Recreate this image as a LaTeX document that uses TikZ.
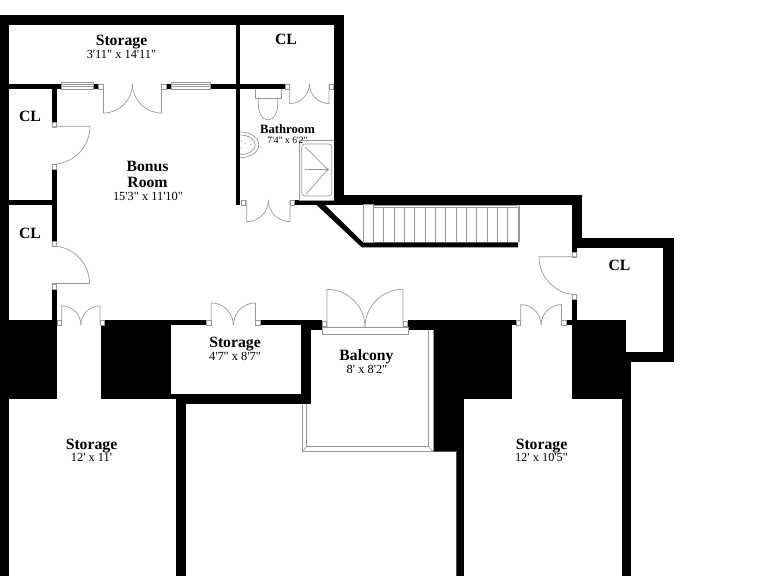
\documentclass[tikz,border=0pt]{standalone}
\usepackage{fontspec}
\setmainfont{Liberation Serif}[Ligatures=TeXOff]
\definecolor{fixgray}{HTML}{999999}
\tikzset{
    wall/.style = {fill = black, draw = none},
    fixture/.style = {draw = fixgray, line width = 0.7pt},
    jamb/.style = {draw = fixgray, line width = 0.6pt, fill = white},
    roomtitle/.style = {font = \fontsize{15.7}{16}\bfseries\selectfont, anchor = base, inner sep = 0pt},
    roomsize/.style = {font = \fontsize{12.4}{13}\selectfont, anchor = base, inner sep = 0pt},
    bathtitle/.style = {font = \fontsize{12.7}{13}\bfseries\selectfont, anchor = base, inner sep = 0pt},
    bathsize/.style = {font = \fontsize{9.6}{10}\selectfont, anchor = base, inner sep = 0pt}
}
\begin{document}
\begin{tikzpicture}[x = 1pt, y = -1pt]
    \useasboundingbox (0,0) rectangle (768,576);
    % solid walls
    \foreach \xa/\ya/\xb/\yb in {
        0/15/344/25, 0/15/9/320, 334/15/344/205, 235.5/25/240.3/205,
        9/84/62/89, 93.3/84/98.7/89, 166/84/171/89, 210/84/285/89,
        52/84/57/122, 52/169/57/241, 52/288/57/320, 9/200/52/205,
        295/200/344/205, 344/195/582/205,
        0/320/57/399, 0/399/9/576, 101/320/171/399,
        171/320/207/325, 260/320/322/325, 301/325/311/404, 311/325/322/330,
        171/394/311/399, 175.5/399/311/404, 175.5/404/186/576,
        408/320/433/330, 433/320/516/325, 433/325/512/399,
        433/399/464/451, 456.5/451/464/576,
        566/320/572/325, 572/299/577/320, 572/320/626/362, 572/362/631/399,
        622/399/631/576, 626/352/674/362, 663/238/674/362,
        582/238/674/248, 572/195/582/248, 572/248/577/252}
        \fill[wall] (\xa,\ya) rectangle (\xb,\yb);
    \fill[wall] (316.7,205) -- (325,205) -- (363,242.3) -- (518,242.3)
        -- (518,247.3) -- (361.7,247.3) -- cycle;
    % windows
    \foreach \xa/\xb in {61.7/93.3, 171/210}{
        \draw[jamb] (\xa,82) rectangle (\xb,89);
        \draw[fixture] (\xa,84.3) -- (\xb,84.3);
        \draw[fixture] (\xa,86.7) -- (\xb,86.7);
    }
    % door jambs
    \foreach \xa/\ya in {
        98.7/84, 161.3/84, 285/84, 329/84, 52/122, 52/164, 52/241, 52/284,
        241/200, 290/200, 57/320, 100/320, 206.5/320, 255.5/320,
        322/321, 403/321, 516/320, 561.5/320, 572/252, 572/294.5}
        \draw[jamb] (\xa,\ya) rectangle ++(4.7,4.8);
    % double doors: left hinge, right hinge, hinge line, width
    \foreach \xl/\xr/\yh/\wd in {
        103.4/161.5/84/29, 289.7/329/84/19.6, 246.7/290/200/21.7}{
        \draw[fixture] (\xl,\yh) -- ++(0,\wd) arc[start angle = 90, end angle = 0, radius = \wd];
        \draw[fixture] (\xr,\yh) -- ++(0,\wd) arc[start angle = 90, end angle = 180, radius = \wd];
    }
    \foreach \xl/\xr/\yh/\wd in {
        61.7/100/325/19.2, 211.2/255.5/325/22.1, 520.7/561.5/325/20.4, 327/403/327.3/38}{
        \draw[fixture] (\xl,\yh) -- ++(0,-\wd) arc[start angle = -90, end angle = 0, radius = \wd];
        \draw[fixture] (\xr,\yh) -- ++(0,-\wd) arc[start angle = -90, end angle = -180, radius = \wd];
    }
    % single closet doors
    \draw[fixture] (52,126.3) -- (90,126.3) arc[start angle = 0, end angle = 90, radius = 38];
    \draw[fixture] (52,283.5) -- (89.5,283.5) arc[start angle = 0, end angle = -90, radius = 37.5];
    \draw[fixture] (577,256.7) -- (539,256.7) arc[start angle = 180, end angle = 90, radius = 38];
    % balcony rail and sill
    \draw[jamb] (322,327.3) rectangle (408,334.3);
    \draw[fixture] (428.5,330) -- (428.5,446.7) -- (306.7,446.7) -- (306.7,404);
    \draw[fixture] (433,330) -- (433,451.3) -- (302.5,451.3) -- (302.5,404);
    \draw[fixture] (428.5,446.7) -- (433,451.3);
    \draw[fixture] (306.7,446.7) -- (302.5,451.3);
    \draw[draw = black!70, line width = 0.7pt] (433,451.3) -- (456.5,451.3) -- (456.5,576);
    % stairs
    \draw[fixture] (363,204) rectangle (373,242.3);
    \draw[fixture] (373,205.3) -- (518,205.3);
    \draw[fixture] (373,207.3) -- (518,207.3);
    \foreach \i in {0,...,14}
        \draw[fixture] ({373.2+\i*10.35},207) -- ({373.2+\i*10.35},242.3);
    \draw[fixture] (519,205.3) -- (519,242.3);
    % toilet
    \draw[fixture] (255.7,89) -- (255.7,98) -- (281,98) -- (281,89);
    \draw[fixture] (258.5,98) .. controls (257,112) and (262,120) .. (268,120)
        .. controls (274,120) and (279,112) .. (277.5,98);
    % sink
    \draw[fixture] (240.3,132) arc[start angle = -90, end angle = 90, x radius = 18.5, y radius = 12.8];
    \draw[fixture] (240.3,135) arc[start angle = -90, end angle = 90, x radius = 15, y radius = 9.8];
    \foreach \xa/\ya in {241.5/141, 245/143.5, 241.5/148, 251/144.5}
        \fill[fixgray] (\xa,\ya) circle (0.7);
    % shower
    \draw[fixture] (334,140.7) -- (299,140.7) -- (299,200) -- (334,200);
    \draw[fixture, rounded corners = 3pt] (301.7,144) rectangle (331.8,196);
    \draw[fixture] (305,146.7) -- (327.7,169.5) -- (306,194.3);
    \draw[fixture] (304.5,169.5) -- (327.7,169.5);
    \draw[fixture] (327.7,169.5) circle (0.9);
    % room labels
    \node[roomtitle] (storagetop) at (121.5,45) {Storage};
    \node[roomsize] (storagetopsize) at (121.5,58) {3'11" x 14'11"};
    \node[roomtitle] (cltop) at (286,44.5) {CL};
    \node[roomtitle] (clupper) at (30,121.5) {CL};
    \node[roomtitle] (cllower) at (30,238) {CL};
    \node[roomtitle] (clright) at (619.5,270) {CL};
    \node[roomtitle] (bonus) at (147.5,171.5) {Bonus};
    \node[roomtitle] (room) at (147.5,187.5) {Room};
    \node[roomsize] (bonussize) at (148,200) {15'3" x 11'10"};
    \node[bathtitle] (bath) at (287.5,133) {Bathroom};
    \node[bathsize] (bathdim) at (287.5,143.5) {7'4" x 6'2"};
    \node[roomtitle] (storagemid) at (235,347) {Storage};
    \node[roomsize] (storagemidsize) at (235,360) {4'7" x 8'7"};
    \node[roomtitle] (balcony) at (366.5,360) {Balcony};
    \node[roomsize] (balconysize) at (367,373) {8' x 8'2"};
    \node[roomtitle] (storageleft) at (91.5,449) {Storage};
    \node[roomsize] (storageleftsize) at (91.5,461.7) {12' x 11'};
    \node[roomtitle] (storageright) at (541.5,449) {Storage};
    \node[roomsize] (storagerightsize) at (541.5,461.7) {12' x 10'5"};
\end{tikzpicture}
\end{document}
